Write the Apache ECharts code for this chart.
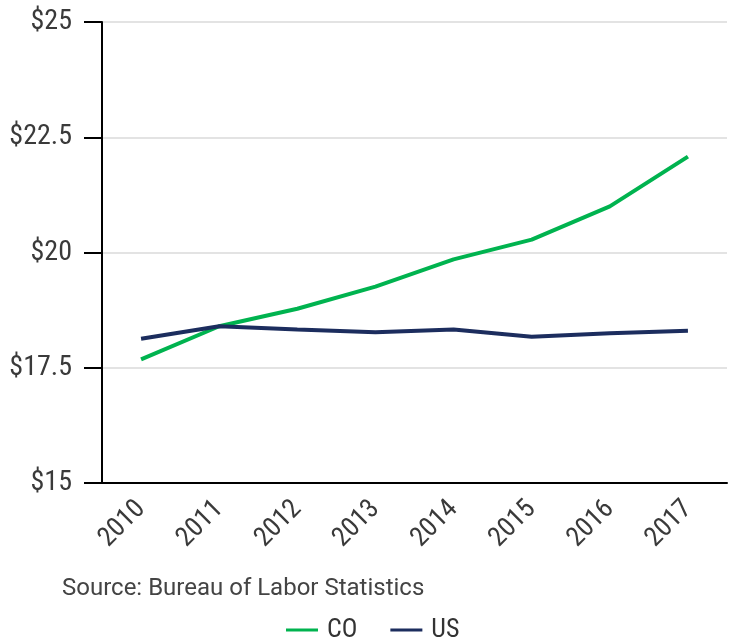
<!DOCTYPE html>
<html>
<head>
<meta charset="utf-8">
<script src="https://cdn.jsdelivr.net/npm/echarts@6/dist/echarts.min.js"></script>
<style>
  html, body { margin: 0; padding: 0; background: #fff; }
  #chart { width: 734px; height: 637px; }
</style>
</head>
<body>
<div id="chart"></div>
<script>
// Average hourly wage, Colorado vs. United States
const years = ['2010', '2011', '2012', '2013', '2014', '2015', '2016', '2017'];
const coWage = [17.68, 18.40, 18.78, 19.26, 19.85, 20.28, 21.00, 22.08];
const usWage = [18.13, 18.40, 18.33, 18.27, 18.33, 18.17, 18.25, 18.30];
const yTicks = [15, 17.5, 20, 22.5, 25];

const condensed = "'Roboto Condensed', 'Liberation Sans Narrow', 'DejaVu Sans Condensed', sans-serif";

const chart = echarts.init(document.getElementById('chart'), null, { renderer: 'canvas' });
chart.setOption({
  animation: false,
  grid: { left: 102, right: 7, top: 22, bottom: 154, containLabel: false },
  xAxis: {
    type: 'category',
    data: years,
    boundaryGap: true,
    axisLine: { lineStyle: { color: '#000', width: 2 } },
    axisTick: { alignWithLabel: true, length: 18, lineStyle: { color: '#000', width: 2 } },
    axisLabel: {
      rotate: 45, margin: 22, color: '#3a3a3a',
      fontFamily: condensed, fontSize: 27
    }
  },
  yAxis: {
    type: 'value',
    min: 15, max: 25, interval: 2.5,
    axisLine: { show: true, lineStyle: { color: '#000', width: 2 } },
    axisTick: { show: true, length: 18, lineStyle: { color: '#000', width: 2 } },
    splitLine: { lineStyle: { color: '#e3e3e3', width: 2 } },
    axisLabel: {
      margin: 30, color: '#3a3a3a', fontFamily: condensed, fontSize: 28,
      customValues: yTicks,
      formatter: v => '$' + v
    }
  },
  legend: {
    top: 612, left: 281,
    icon: 'rect', itemWidth: 32, itemHeight: 3, itemGap: 33,
    textStyle: { fontFamily: condensed, fontSize: 26, color: '#333', padding: [0, 0, 0, 4] },
    data: ['CO', 'US']
  },
  graphic: [{
    type: 'text', left: 62, top: 577,
    style: {
      text: 'Source: Bureau of Labor Statistics', fill: '#444',
      font: '24px Roboto, sans-serif'
    }
  }],
  series: [
    {
      name: 'CO', type: 'line', data: coWage,
      symbol: 'none', lineStyle: { color: '#00b34f', width: 4 }, itemStyle: { color: '#00b34f' }
    },
    {
      name: 'US', type: 'line', data: usWage,
      symbol: 'none', lineStyle: { color: '#1c2d5e', width: 4 }, itemStyle: { color: '#1c2d5e' }
    }
  ]
});
</script>
</body>
</html>
